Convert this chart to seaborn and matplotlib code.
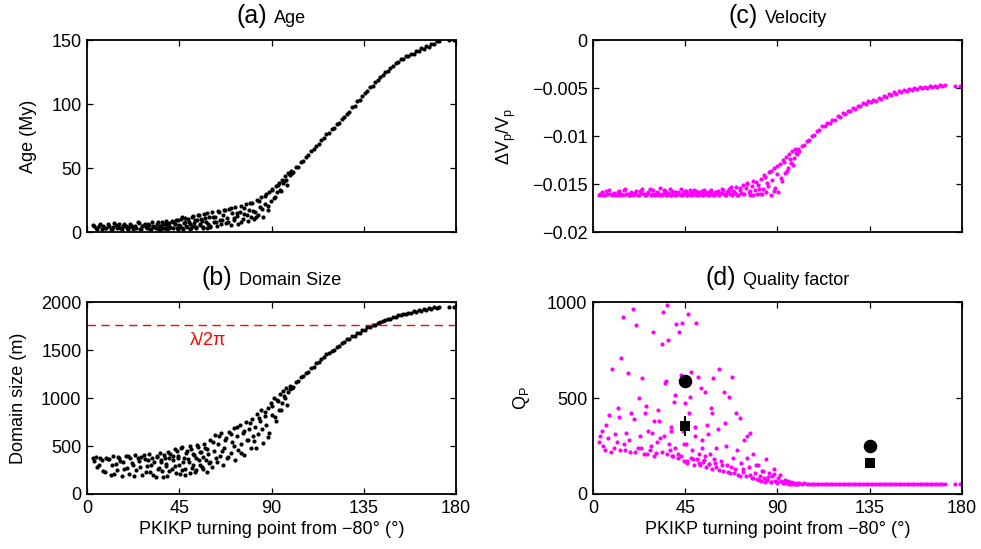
# Four-panel scatter: age, domain size, velocity and Q against PKIKP turning point.

import pandas as pd
import seaborn as sns
import matplotlib.pyplot as plt
from matplotlib.offsetbox import TextArea, HPacker, AnchoredOffsetbox

# PKIKP turning point from -80 deg (deg), shared by all panels
turning_pt = [
    3.1, 4.4, 5.8, 7.2, 8.0, 9.5, 10.3, 11.7, 12.6, 13.9, 14.6, 15.8, 16.9, 17.5, 18.8, 19.6,
    20.4, 21.2, 22.5, 23.3, 24.1, 25.4, 26.2, 27.0, 28.3, 29.1, 30.0, 30.8, 31.9, 32.7, 33.5,
    34.2, 35.0, 35.9, 36.6, 37.4, 38.3, 39.1, 39.8,
    40.6, 41.3, 42.0, 42.8, 43.5, 44.2, 45.0, 45.7, 46.5, 47.3, 48.0, 48.8, 49.6, 50.3, 51.1,
    51.8, 52.6, 53.3, 54.1, 54.9, 55.6, 56.4, 57.1, 57.9, 58.6, 59.4,
    60.2, 60.9, 61.7, 62.4, 63.2, 63.9, 64.7, 65.5, 66.2, 67.0, 67.7, 68.5, 69.2, 70.0, 70.8,
    71.5, 72.3, 73.0, 73.8, 74.5, 75.3, 76.1, 76.8, 77.6, 78.3, 79.1, 79.8,
    80.6, 81.4, 82.1, 82.9, 83.6, 84.4, 85.1, 85.9, 86.7, 87.4, 88.2, 88.9, 89.7, 90.4, 91.2,
    92.0, 92.7, 93.5, 94.2, 95.0, 95.8, 96.5, 97.3, 98.0, 98.8, 99.6,
    100.5, 101.8, 103.0, 104.3, 105.5, 106.8, 108.0, 109.3, 110.5, 111.8, 113.0, 114.3, 115.5,
    116.8, 118.0, 119.3, 120.5, 121.8, 123.0, 124.3, 125.5, 126.8, 128.0, 129.3, 130.5, 131.8,
    133.0, 134.3,
    135.5, 136.8, 138.0, 139.3, 140.5, 141.8, 143.0, 144.3, 145.5, 146.8, 148.0, 149.3, 150.5,
    151.8, 153.0, 154.3, 155.5, 156.8, 158.0, 159.3, 160.5, 161.8, 163.0, 164.3, 165.5, 166.8,
    168.0, 169.3, 170.5, 171.6, 176.8, 178.9,
]
# second batch of samples in the scattered part (0-100 deg)
turning_pt_extra = [
    3.6, 5.1, 6.5, 8.7, 10.9, 12.2, 13.3, 15.2, 16.3, 18.2, 19.9, 21.8, 22.9, 24.7, 25.8,
    27.6, 28.8, 29.6, 31.4, 32.2, 33.9, 34.7, 35.4, 36.2, 37.0, 37.9, 38.7, 39.4, 40.2, 41.7,
    43.1, 43.9, 44.6, 45.4, 46.1, 46.9, 47.7, 48.4, 49.2, 50.0, 50.7, 51.5, 52.2, 53.0,
    53.7, 54.5, 55.3, 56.0, 56.8, 57.5, 58.3, 59.0, 59.8, 61.3, 62.8, 64.3, 65.9, 67.4,
    68.9, 70.4, 71.9, 73.4, 74.9, 76.5, 78.0, 79.5, 81.0, 82.5, 84.0, 85.5, 87.0, 88.5,
    90.0, 91.6, 93.1, 94.6, 96.1, 97.7, 99.2, 100.0,
]

# (a) age (My)
age = [
    5.5, 3.0, 4.5, 2.5, 5.0, 3.5, 6.0, 2.0, 4.0, 5.5, 3.0, 6.5, 2.5, 4.5, 5.0, 3.5,
    4.0, 6.0, 2.5, 5.0, 3.5, 7.0, 2.0, 4.5, 6.0, 3.0, 5.5, 2.5, 7.5, 4.0, 3.0,
    6.5, 2.0, 5.0, 8.0, 3.5, 6.0, 2.5, 7.0,
    4.0, 8.5, 3.0, 6.0, 9.5, 2.5, 5.5, 10.5, 3.5, 7.0, 11.0, 4.0, 8.0, 2.5, 12.0,
    5.0, 9.0, 3.0, 13.0, 6.5, 10.0, 4.0, 14.0, 7.5, 3.5, 11.5,
    5.0, 15.5, 8.0, 12.0, 4.5, 16.5, 9.5, 6.0, 13.5, 17.5, 7.0, 11.0, 18.0, 5.5, 14.5,
    9.0, 19.5, 12.5, 6.5, 16.0, 20.5, 10.0, 14.0, 21.5, 8.5, 17.0, 12.0,
    22.5, 10.5, 16.0, 25.0, 13.0, 19.5, 27.0, 11.5, 22.0, 29.5, 17.0, 31.0, 24.0, 34.0, 26.5,
    36.0, 31.5, 38.5, 33.0, 41.0, 38.0, 43.5, 41.0, 46.0, 44.5, 48.0,
    47, 50.5, 51, 54.5, 55.5, 58.5, 60, 63.5, 64.5, 67.5, 69, 72, 73.5,
    76.5, 77.5, 80.5, 81.5, 84.5, 85.5, 88.5, 89.5, 92.5, 94, 97.5, 98.5, 102,
    103, 106.5,
    108.5, 110, 113, 114.5, 117.5, 118.5, 121.5, 122.5, 125, 126, 128.5, 129.5, 132,
    132.5, 135, 135.5, 137.5, 137.5, 139.5, 139.5, 141.5, 141.5, 143.5, 143, 145.5, 144.5,
    147, 147, 149, 149.5, 150, 150,
]
age_extra = [
    4.5, 2.0, 6.0, 3.5, 5.0, 2.5, 7.0, 4.0, 3.0, 6.5, 2.0, 5.0, 3.5, 7.5, 2.5,
    5.5, 4.0, 6.5, 2.0, 5.0, 3.0, 8.0, 4.5, 2.5, 6.0, 3.5, 8.5, 5.0, 3.0, 7.5,
    6.5, 3.0, 9.0, 5.0, 11.5, 2.5, 8.0, 4.5, 10.0, 6.0, 3.5, 12.5, 7.0, 4.0,
    9.5, 13.5, 5.5, 8.5, 3.0, 11.0, 14.5, 6.5, 4.0, 12.0, 7.5, 15.5, 9.5, 17.0,
    8.0, 18.5, 11.0, 15.0, 7.5, 19.0, 13.0, 23.0, 16.5, 12.0, 24.5, 18.0, 28.0, 20.5,
    33.0, 27.0, 37.0, 32.0, 40.0, 36.5, 45.0, 46.5,
]

# (b) domain size (m)
domain_size = [
    370, 390, 300, 350, 240, 380, 360, 200, 400, 310, 250, 380, 190, 330, 400, 270,
    210, 380, 300, 410, 250, 340, 390, 200, 360, 290, 420, 230, 380, 330, 180,
    400, 270, 350, 240, 410, 310, 190, 380,
    420, 260, 350, 470, 220, 400, 300, 480, 250, 370, 200, 450, 330, 500, 270,
    420, 230, 380, 490, 300, 440, 260, 520, 350, 470, 320,
    560, 280, 450, 610, 330, 520, 400, 640, 300, 480, 580, 370, 650, 430, 540,
    690, 350, 600, 460, 720, 520, 640, 410, 750, 560, 680, 480,
    780, 550, 700, 830, 620, 760, 880, 530, 810, 720, 900, 640, 950, 820, 1000,
    760, 980, 880, 1040, 950, 1070, 1000, 1100, 1060, 1130, 1110,
    1120, 1165, 1175, 1215, 1225, 1265, 1275, 1310, 1325, 1360, 1375, 1410, 1425,
    1455, 1465, 1495, 1505, 1535, 1545, 1575, 1585, 1610, 1615, 1645, 1650, 1675,
    1680, 1705,
    1710, 1735, 1740, 1762, 1765, 1785, 1788, 1806, 1808, 1826, 1828, 1846, 1846,
    1862, 1862, 1877, 1876, 1891, 1889, 1903, 1901, 1914, 1911, 1924, 1921, 1934,
    1931, 1944, 1941, 1952, 1950, 1950,
]
domain_size_extra = [
    340, 280, 380, 230, 360, 300, 210, 390, 340, 260, 400, 320, 190, 370, 280,
    410, 230, 350, 300, 200, 390, 260, 430, 330, 180, 370, 290, 440, 240, 400,
    290, 450, 380, 210, 490, 330, 260, 430, 360, 220, 470, 300, 410, 250,
    510, 350, 440, 280, 390, 480, 230, 420, 330, 540, 380, 600, 450, 560,
    390, 620, 500, 700, 430, 660, 560, 740, 600, 480, 790, 680, 850, 590,
    920, 800, 970, 880, 1020, 930, 1090, 1100,
]

# (c) velocity perturbation dVp/Vp
dvp = [
    -0.0161, -0.0158, -0.0161, -0.0160, -0.0156, -0.0161, -0.0159, -0.0161, -0.0157, -0.0160,
    -0.0161, -0.0155, -0.0160, -0.0161, -0.0158, -0.0161,
    -0.0160, -0.0157, -0.0161, -0.0159, -0.0155, -0.0161, -0.0160, -0.0158, -0.0161, -0.0156,
    -0.0160, -0.0161, -0.0159, -0.0154, -0.0161, -0.0160, -0.0157, -0.0161, -0.0159, -0.0155,
    -0.0161, -0.0160, -0.0158,
    -0.0161, -0.0158, -0.0160, -0.0155, -0.0161, -0.0159, -0.0157, -0.0161, -0.0160, -0.0156,
    -0.0161, -0.0159, -0.0160, -0.0157, -0.0161, -0.0158, -0.0160, -0.0161, -0.0156, -0.0160,
    -0.0159, -0.0161, -0.0157, -0.0160, -0.0161, -0.0158,
    -0.0160, -0.0157, -0.0161, -0.0159, -0.0156, -0.0160, -0.0161, -0.0158, -0.0155, -0.0160,
    -0.0161, -0.0157, -0.0159, -0.0153, -0.0161, -0.0156, -0.0159, -0.0151, -0.0160, -0.0154,
    -0.0149, -0.0158, -0.0161, -0.0152, -0.0147, -0.0156, -0.0160,
    -0.0151, -0.0160, -0.0145, -0.0155, -0.0141, -0.0158, -0.0149, -0.0137, -0.0161, -0.0146,
    -0.0133, -0.0154, -0.0140, -0.0158, -0.0129, -0.0147, -0.0125, -0.0139, -0.0122, -0.0133,
    -0.0119, -0.0128, -0.0116, -0.0123, -0.0113, -0.0119,
    -0.0116, -0.0110, -0.0109, -0.0105, -0.0104, -0.0100, -0.0099, -0.0095, -0.0094, -0.0090,
    -0.0090, -0.0086, -0.0086, -0.0083, -0.0083, -0.0079, -0.0080, -0.0076, -0.0077, -0.0074,
    -0.0074, -0.0071, -0.0072, -0.0069, -0.0069, -0.0066, -0.0067, -0.0064,
    -0.0065, -0.0062, -0.0063, -0.0060, -0.0061, -0.0058, -0.0059, -0.0056, -0.0057, -0.0054,
    -0.0056, -0.0053, -0.0054, -0.0052, -0.0053, -0.0051, -0.0052, -0.0050, -0.0051, -0.0049,
    -0.0050, -0.0049, -0.0050, -0.0048, -0.0049, -0.0048, -0.0049, -0.0047, -0.0048, -0.0047,
    -0.0048, -0.0048,
]
dvp_extra = [
    -0.0160, -0.0161, -0.0157, -0.0160, -0.0161, -0.0158, -0.0161, -0.0156, -0.0160, -0.0161,
    -0.0159, -0.0161, -0.0157, -0.0160, -0.0161, -0.0155, -0.0160, -0.0161, -0.0158, -0.0161,
    -0.0160, -0.0156, -0.0161, -0.0159, -0.0160, -0.0161, -0.0157, -0.0160, -0.0161, -0.0159,
    -0.0161, -0.0159, -0.0160, -0.0157, -0.0161, -0.0160, -0.0158, -0.0161, -0.0156, -0.0160,
    -0.0161, -0.0159, -0.0160, -0.0157, -0.0161, -0.0160, -0.0158, -0.0161, -0.0159, -0.0156,
    -0.0160, -0.0161, -0.0158, -0.0160, -0.0155, -0.0161, -0.0157, -0.0153,
    -0.0158, -0.0161, -0.0154, -0.0160, -0.0150, -0.0157, -0.0161, -0.0148, -0.0155, -0.0160,
    -0.0143, -0.0152, -0.0136, -0.0157, -0.0131, -0.0144, -0.0127, -0.0136, -0.0124, -0.0130,
    -0.0118, -0.0114,
]

# (d) quality factor Qp
qp = [
    270, 330, 230, 290, 410, 650, 240, 270, 400, 708, 922, 230, 630, 280, 420, 963,
    220, 880, 500, 240, 604, 420, 210, 330, 250, 843, 380, 215, 440, 290, 781,
    948, 578, 984, 802, 230, 350, 200, 516,
    885, 190, 843, 620, 890, 260, 474, 170, 938, 505, 635, 180, 300, 890, 610,
    160, 550, 240, 175, 530, 360, 155, 210, 420, 604, 160,
    140, 340, 651, 170, 120, 530, 250, 150, 505, 110, 609, 190, 130, 420, 100,
    394, 160, 115, 280, 95, 190, 140, 316, 85, 210, 110, 80,
    150, 95, 70, 120, 85, 180, 75, 110, 65, 95, 130, 70, 60, 85, 100,
    65, 58, 75, 55, 68, 54, 60, 53, 57, 52, 55,
    56, 54, 55, 53, 54, 52, 53, 52, 53, 51, 52, 51, 52, 51, 51, 50, 51, 50, 51, 50,
    51, 50, 50, 51, 50, 50, 51, 50,
    50, 51, 50, 50, 51, 50, 50, 51, 50, 50, 51, 50, 50, 50, 51, 50, 50, 51, 50, 50,
    50, 51, 50, 50, 51, 50, 50, 51, 50, 50, 50, 50,
]
qp_extra = [
    300, 250, 360, 220, 310, 450, 230, 260, 320, 220, 390, 240, 300, 210, 460,
    230, 320, 200, 270, 380, 220, 300, 590, 210, 260, 330, 200, 480, 240, 210,
    200, 330, 170, 260, 160, 420, 190, 230, 150, 350, 180, 210, 150, 280,
    165, 200, 140, 310, 155, 450, 130, 180, 240, 125, 150, 370, 115, 140,
    110, 230, 95, 130, 300, 100, 85, 150, 75, 120, 65, 90, 60, 105,
    58, 70, 55, 62, 54, 58, 53, 52,
]

# observed Q estimates in panel (d)
obs_x = [45, 135]
obs_circle_q = [590, 250]
obs_square_q = [355, 160]
obs_square_err = [52, 0]

lambda_line = 1760  # lambda / 2 pi (m)

x_ticks = [0, 45, 90, 135, 180]
dvp_ticks = [-0.02, -0.015, -0.01, -0.005, 0]
dvp_tick_labels = ['\u22120.02', '\u22120.015', '\u22120.01', '\u22120.005', '0']

df = pd.DataFrame({'x': turning_pt + turning_pt_extra,
                   'age': age + age_extra,
                   'domain': domain_size + domain_size_extra,
                   'dvp': dvp + dvp_extra,
                   'qp': qp + qp_extra})

sns.set_theme(style='ticks')
plt.rcParams.update({
    'font.family': ['Liberation Sans', 'DejaVu Sans'],
    'mathtext.default': 'regular',
    'xtick.direction': 'in', 'ytick.direction': 'in',
    'xtick.top': True, 'ytick.right': True,
    'xtick.major.size': 4, 'ytick.major.size': 4,
    'xtick.major.width': 0.9, 'ytick.major.width': 0.9,
    'xtick.major.pad': 4, 'ytick.major.pad': 4,
    'xtick.labelsize': 13, 'ytick.labelsize': 13,
    'axes.labelsize': 13, 'axes.linewidth': 1.3,
    'xtick.color': 'black', 'ytick.color': 'black',
    'axes.edgecolor': 'black', 'text.color': 'black', 'axes.labelcolor': 'black',
})

fig, axes = plt.subplots(2, 2, figsize=(9.81, 5.49), dpi=100)
fig.subplots_adjust(left=0.0887, right=0.9806, bottom=0.1002, top=0.927,
                    wspace=0.371, hspace=0.365)
ax_a, ax_c = axes[0]
ax_b, ax_d = axes[1]


def panel_title(ax, letter, name):
    box = HPacker(children=[TextArea(letter, textprops=dict(size=18)),
                            TextArea(name, textprops=dict(size=13))],
                  align='baseline', pad=0, sep=5)
    title = AnchoredOffsetbox(loc='lower center', child=box, pad=0, borderpad=0,
                              frameon=False, bbox_to_anchor=(0.5, 1.065),
                              bbox_transform=ax.transAxes)
    ax.add_artist(title)


dot = dict(s=9, linewidth=0)

# (a) Age
sns.scatterplot(data=df, x='x', y='age', color='black', ax=ax_a, **dot)
ax_a.set_ylim(0, 150)
ax_a.set_yticks([0, 50, 100, 150])
ax_a.set_ylabel('Age (My)')
ax_a.yaxis.set_label_coords(-0.135, 0.5)
panel_title(ax_a, '(a)', 'Age')

# (b) Domain size
sns.scatterplot(data=df, x='x', y='domain', color='black', ax=ax_b, **dot)
ax_b.axhline(lambda_line, color='red', linestyle=(0, (6, 4)), linewidth=1)
ax_b.text(59, 1600, '\u03bb/2\u03c0', color='red', fontsize=13, ha='center', va='center')
ax_b.set_ylim(0, 2000)
ax_b.set_yticks([0, 500, 1000, 1500, 2000])
ax_b.set_ylabel('Domain size (m)')
ax_b.yaxis.set_label_coords(-0.163, 0.5)
panel_title(ax_b, '(b)', 'Domain Size')

# (c) Velocity
sns.scatterplot(data=df, x='x', y='dvp', color='#ff00ff', ax=ax_c, **dot)
ax_c.set_ylim(-0.02, 0)
ax_c.set_yticks(dvp_ticks)
ax_c.set_yticklabels(dvp_tick_labels)
ax_c.set_ylabel(r'$\Delta V_p/V_p$')
ax_c.yaxis.set_label_coords(-0.203, 0.5)
panel_title(ax_c, '(c)', 'Velocity')

# (d) Quality factor
sns.scatterplot(data=df, x='x', y='qp', color='#ff00ff', ax=ax_d, **dot)
ax_d.errorbar(obs_x, obs_square_q, yerr=obs_square_err, fmt='none',
              ecolor='black', elinewidth=1.5, capsize=0)
sns.scatterplot(x=obs_x, y=obs_circle_q, marker='o', s=95, color='black',
                linewidth=0, ax=ax_d)
sns.scatterplot(x=obs_x, y=obs_square_q, marker='s', s=60, color='black',
                linewidth=0, ax=ax_d)
ax_d.set_ylim(0, 1000)
ax_d.set_yticks([0, 500, 1000])
ax_d.set_ylabel(r'$Q_P$')
ax_d.yaxis.set_label_coords(-0.165, 0.5)
panel_title(ax_d, '(d)', 'Quality factor')

for ax in (ax_a, ax_b, ax_c, ax_d):
    ax.set_xlim(0, 180)
    ax.set_xticks(x_ticks)
    ax.set_xlabel('')
for ax in (ax_a, ax_c):
    ax.set_xticklabels([])
for ax in (ax_b, ax_d):
    ax.set_xlabel('PKIKP turning point from \u221280\u00b0 (\u00b0)', labelpad=3)

fig.savefig('out.png', dpi=100)
